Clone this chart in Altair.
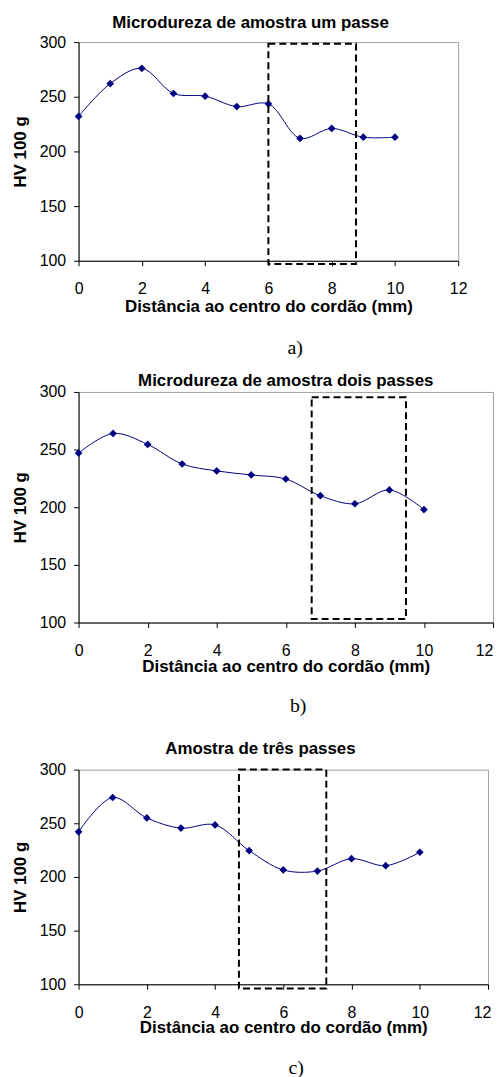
import altair as alt
import pandas as pd

# ---- data ----
DIST = [0, 1, 2, 3, 4, 5, 6, 7, 8, 9, 10]
HV_A = [232, 262, 276, 253, 250.5, 241, 243.5, 212, 221, 213, 213]
HV_B = [247, 264, 254.5, 237.5, 231.5, 228, 224.5, 210, 203, 215, 198]
HV_C = [242, 274, 255, 245.5, 248.5, 224.5, 206.5, 205.5, 217, 210.5, 223]

BOX_A = [6.0, 8.77, 97, 298.5]   # x1, x2, y1, y2
BOX_B = [6.75, 9.48, 103, 295.5]
BOX_C = [4.7, 7.26, 96, 300]

TITLE_A = "Microdureza de amostra um passe"
TITLE_B = "Microdureza de amostra dois passes"
TITLE_C = "Amostra de três passes"
CAPTIONS = ["a)", "b)", "c)"]

X_TICKS = [0, 2, 4, 6, 8, 10, 12]
Y_TICKS = [100, 150, 200, 250, 300]
X_TITLE = "Distância ao centro do cordão (mm)"
Y_TITLE = "HV 100 g"

FONT = "Liberation Sans"
NAVY = "#000080"


def panel(hv, box, title, caption, w, h, title_dx, title_offset,
          cap_x, cap_y, xtitle_pad, last_shift):
    df = pd.DataFrame({"x": DIST, "hv": hv})
    bdf = pd.DataFrame({"x1": [box[0]], "x2": [box[1]], "y1": [box[2]], "y2": [box[3]]})
    xs = alt.Scale(domain=[0, 12], nice=False, zero=False)
    ys = alt.Scale(domain=[100, 300], nice=False, zero=False)
    xa = alt.Axis(values=X_TICKS, title=X_TITLE, labelPadding=15,
                  titlePadding=xtitle_pad, format="d",
                  labelOffset={"condition": {"test": "datum.value == 12", "value": last_shift},
                               "value": 0})
    ya = alt.Axis(values=Y_TICKS, title=Y_TITLE, format="d")
    line = alt.Chart(df).mark_line(interpolate="catmull-rom", color=NAVY, strokeWidth=1).encode(
        x=alt.X("x:Q", scale=xs, axis=xa),
        y=alt.Y("hv:Q", scale=ys, axis=ya),
    )
    pts = alt.Chart(df).mark_point(shape="diamond", filled=True, size=60, color=NAVY, opacity=1).encode(
        x="x:Q", y="hv:Q"
    )
    rect = alt.Chart(bdf).mark_rect(fillOpacity=0, stroke="black", strokeWidth=2,
                                    strokeDash=[7, 4], clip=False).encode(
        x="x1:Q", x2="x2:Q", y="y1:Q", y2="y2:Q"
    )
    cap = alt.Chart(pd.DataFrame({"t": [caption]})).mark_text(
        font="Liberation Serif", fontSize=20, color="black", baseline="middle", align="center"
    ).encode(text="t:N", x=alt.value(cap_x), y=alt.value(cap_y))
    return alt.layer(line, pts, rect, cap).properties(
        width=w, height=h,
        title=alt.TitleParams(title, dx=title_dx, offset=title_offset, anchor="middle",
                              font=FONT, fontSize=17, fontWeight="bold", color="black"),
    )


pa = panel(HV_A, BOX_A, TITLE_A, CAPTIONS[0], 382, 220, -18, 2, 218, 308, 2, 0)
pb = panel(HV_B, BOX_B, TITLE_B, CAPTIONS[1], 417, 232, 0, -6, 221, 316, 0, -9)
pc = panel(HV_C, BOX_C, TITLE_C, CAPTIONS[2], 412, 216, -23, 4, 219, 300, 0, -6)

chart = alt.vconcat(alt.vconcat(pa, pb, spacing=12), pc, spacing=22).properties(
    padding={"left": 2, "top": 2, "right": 0, "bottom": 0}
).configure_view(stroke="#a0a0a0", strokeWidth=1).configure_axis(
    grid=False, domainColor="black", domainWidth=1, tickColor="black", tickSize=5,
    labelFont=FONT, labelFontSize=16, labelColor="black", labelFlush=False,
    titleFont=FONT, titleFontSize=17, titleFontWeight="bold", titleColor="black",
).configure_axisY(titlePadding=10, labelPadding=8)

chart.save("out.html", embed_options={"renderer": "svg", "actions": False})
